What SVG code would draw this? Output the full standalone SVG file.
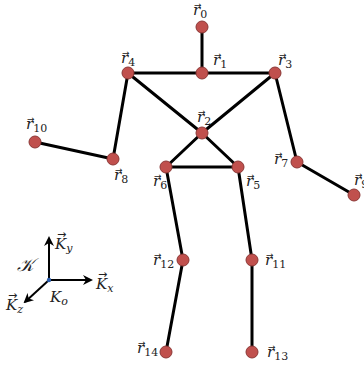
<svg xmlns="http://www.w3.org/2000/svg" width="364" height="371" viewBox="0 0 364 371">
<defs>
<style>
.e{stroke:#000;stroke-width:3;stroke-linecap:round}
.n{fill:#c0504d;stroke:#8c3836;stroke-width:1}
.l{font-family:"DejaVu Serif","Liberation Serif",serif;font-style:italic;font-size:15px;fill:#222}
.s{font-size:11px;font-style:normal}
.a{font-family:"DejaVu Sans",sans-serif;font-size:9px;fill:#222}
.ak{font-family:"DejaVu Sans",sans-serif;font-size:11px;fill:#222}
.ax{stroke:#000;stroke-width:2;marker-end:url(#ah)}
</style>
<marker id="ah" viewBox="0 0 10 10" refX="8" refY="5" markerWidth="5" markerHeight="5" orient="auto"><path d="M0,0 L10,5 L0,10 L3,5 Z" fill="#000"/></marker>
</defs>
<rect width="364" height="371" fill="#fff"/>
<g id="connectors">
<line class="e" x1="202" y1="27" x2="202" y2="73"/>
<line class="e" x1="128" y1="73" x2="275" y2="73"/>
<line class="e" x1="128" y1="73" x2="202" y2="133"/>
<line class="e" x1="275" y1="73" x2="202" y2="133"/>
<line class="e" x1="202" y1="133" x2="166" y2="167"/>
<line class="e" x1="202" y1="133" x2="238" y2="167"/>
<line class="e" x1="166" y1="167" x2="238" y2="167"/>
<line class="e" x1="128" y1="73" x2="113" y2="159"/>
<line class="e" x1="113" y1="159" x2="35" y2="142"/>
<line class="e" x1="275" y1="73" x2="297" y2="162"/>
<line class="e" x1="297" y1="162" x2="354" y2="195"/>
<line class="e" x1="166" y1="167" x2="183" y2="260"/>
<line class="e" x1="183" y1="260" x2="166" y2="352"/>
<line class="e" x1="238" y1="167" x2="252" y2="260"/>
<line class="e" x1="252" y1="260" x2="252" y2="352"/>
</g>
<g id="r0"><circle class="n" cx="202" cy="27" r="6"/><text class="l" x="193" y="15">r<tspan class="s" dy="3">0</tspan></text><text class="a" x="194" y="8">→</text></g>
<g id="r1"><circle class="n" cx="202" cy="73" r="6"/><text class="l" x="213" y="65">r<tspan class="s" dy="3">1</tspan></text><text class="a" x="214" y="58">→</text></g>
<g id="r4"><circle class="n" cx="128" cy="73" r="6"/><text class="l" x="121" y="63">r<tspan class="s" dy="3">4</tspan></text><text class="a" x="122" y="56">→</text></g>
<g id="r3"><circle class="n" cx="275" cy="73" r="6"/><text class="l" x="278" y="65">r<tspan class="s" dy="3">3</tspan></text><text class="a" x="279" y="58">→</text></g>
<g id="r2"><circle class="n" cx="202" cy="133" r="6"/><text class="l" x="197" y="122">r<tspan class="s" dy="3">2</tspan></text><text class="a" x="198" y="115">→</text></g>
<g id="r10"><circle class="n" cx="35" cy="142" r="6"/><text class="l" x="26" y="129">r<tspan class="s" dy="3">10</tspan></text><text class="a" x="27" y="122">→</text></g>
<g id="r8"><circle class="n" cx="113" cy="159" r="6"/><text class="l" x="114" y="180">r<tspan class="s" dy="3">8</tspan></text><text class="a" x="115" y="173">→</text></g>
<g id="r6"><circle class="n" cx="166" cy="167" r="6"/><text class="l" x="153" y="186">r<tspan class="s" dy="3">6</tspan></text><text class="a" x="154" y="179">→</text></g>
<g id="r5"><circle class="n" cx="238" cy="167" r="6"/><text class="l" x="246" y="186">r<tspan class="s" dy="3">5</tspan></text><text class="a" x="247" y="179">→</text></g>
<g id="r7"><circle class="n" cx="297" cy="162" r="6"/><text class="l" x="274" y="164">r<tspan class="s" dy="3">7</tspan></text><text class="a" x="275" y="157">→</text></g>
<g id="r9"><circle class="n" cx="354" cy="195" r="6"/><text class="l" x="354" y="185">r<tspan class="s" dy="3">9</tspan></text><text class="a" x="355" y="178">→</text></g>
<g id="r12"><circle class="n" cx="183" cy="260" r="6"/><text class="l" x="153" y="265">r<tspan class="s" dy="3">12</tspan></text><text class="a" x="154" y="258">→</text></g>
<g id="r11"><circle class="n" cx="252" cy="260" r="6"/><text class="l" x="265" y="265">r<tspan class="s" dy="3">11</tspan></text><text class="a" x="266" y="258">→</text></g>
<g id="r14"><circle class="n" cx="166" cy="352" r="6"/><text class="l" x="137" y="353">r<tspan class="s" dy="3">14</tspan></text><text class="a" x="138" y="346">→</text></g>
<g id="r13"><circle class="n" cx="252" cy="352" r="6"/><text class="l" x="267" y="357">r<tspan class="s" dy="3">13</tspan></text><text class="a" x="268" y="350">→</text></g>
<g id="axes">
<line class="ax" x1="49" y1="280" x2="49" y2="238"/>
<line class="ax" x1="49" y1="280" x2="91" y2="280"/>
<line class="ax" x1="49" y1="280" x2="25" y2="302"/>
<circle cx="49" cy="280" r="2.2" fill="#2a5caa"/>
<text class="l" x="55" y="249">K<tspan class="s" dy="3" style="font-style:italic">y</tspan></text><text class="ak" x="57" y="238">→</text>
<text class="l" x="96" y="289">K<tspan class="s" dy="3" style="font-style:italic">x</tspan></text><text class="ak" x="98" y="278">→</text>
<text class="l" x="6" y="310">K<tspan class="s" dy="3" style="font-style:italic">z</tspan></text><text class="ak" x="8" y="299">→</text>
<text class="l" x="50" y="302">K<tspan class="s" dy="3" style="font-style:italic">o</tspan></text>
<text class="l" x="17" y="271" style="font-size:18px">𝒦</text>
</g>
</svg>
